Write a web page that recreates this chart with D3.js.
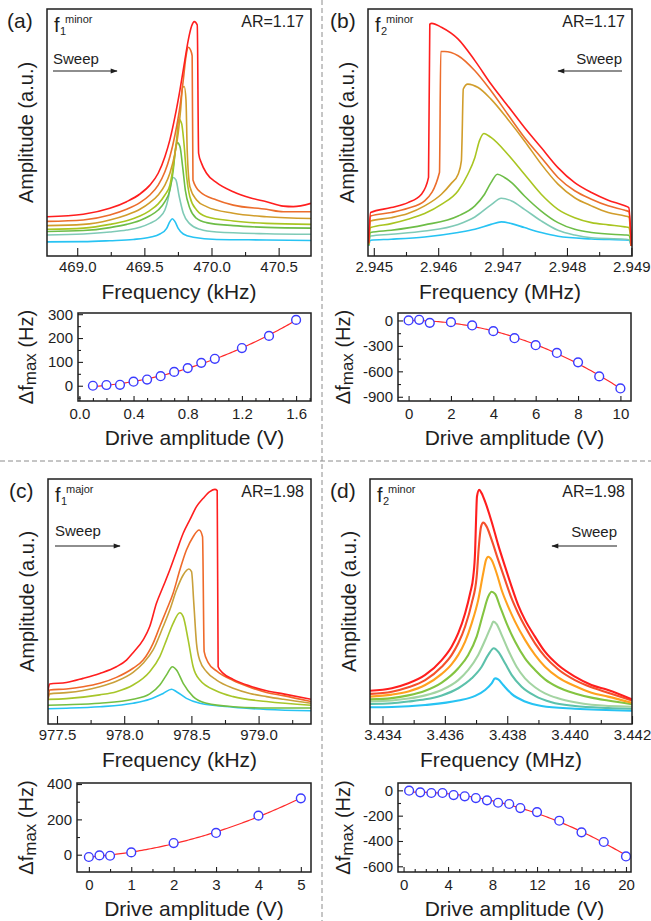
<!DOCTYPE html>
<html>
<head>
<meta charset="utf-8">
<script src="https://cdn.jsdelivr.net/npm/d3@7"></script>
<style>
  body { margin: 0; background: #fff; }
  svg { display: block; font-family: "Liberation Sans", Arial, sans-serif; }
</style>
</head>
<body>
<div id="chart"></div>
<script>
// ---- Data --------------------------------------------------------------
// Frequency responses: [frequency, amplitude (a.u.)], lowest drive first.

// (a) f1 minor, kHz
const cyanA = [[468.775,5.7],[469.045,5.8],[469.243,6.2],[469.417,6.7],[469.541,7.6],[469.616,8.9],[469.666,11.2],[469.690,13.9],[469.708,15.1],[469.728,13.9],[469.752,11.2],[469.790,8.9],[469.864,7.6],[470.038,6.7],[470.410,6.5],[470.741,6.3]];
const tealA = [[468.775,8.5],[469.045,8.9],[469.243,9.7],[469.368,10.5],[469.467,11.6],[469.541,13.2],[469.603,15.2],[469.653,18.6],[469.678,23.3],[469.698,29.4],[469.715,31.8],[469.735,30.8],[469.760,24.0],[469.790,17.3],[469.839,13.0],[469.914,10.8],[470.038,9.7],[470.410,9.0],[470.741,8.8]];
const greenA = [[468.775,9.9],[469.045,10.3],[469.243,11.5],[469.368,12.8],[469.467,14.4],[469.541,16.3],[469.603,18.6],[469.653,22.0],[469.690,26.7],[469.715,34.8],[469.735,44.3],[469.745,45.9],[469.765,44.3],[469.785,36.2],[469.805,26.7],[469.839,19.3],[469.889,15.2],[469.963,13.5],[470.162,12.3],[470.410,11.6],[470.741,11.3]];
const limeA = [[468.775,10.8],[469.045,11.3],[469.243,12.8],[469.368,14.3],[469.467,16.2],[469.541,18.4],[469.603,21.1],[469.653,24.7],[469.690,28.7],[469.715,36.2],[469.740,47.0],[469.757,55.3],[469.777,53.7],[469.795,45.6],[469.815,32.1],[469.839,24.0],[469.889,18.6],[469.963,15.9],[470.162,14.2],[470.410,13.2],[470.741,12.8]];
const goldA = [[468.775,12.3],[469.045,12.8],[469.243,14.6],[469.368,16.6],[469.467,18.9],[469.541,21.6],[469.603,24.7],[469.653,28.7],[469.690,33.5],[469.728,41.6],[469.752,49.7],[469.770,59.1],[469.785,68.3],[469.797,68.6],[469.810,63.2],[469.819,42.9],[469.839,28.1],[469.889,22.7],[469.963,20.0],[470.162,17.3],[470.410,15.9],[470.741,15.2]];
const orangeA = [[468.775,14.0],[469.045,14.6],[469.243,16.6],[469.368,18.9],[469.467,21.6],[469.541,24.7],[469.603,28.7],[469.653,34.1],[469.690,40.2],[469.728,49.0],[469.765,60.5],[469.790,71.3],[469.810,80.7],[469.827,84.5],[469.844,83.4],[469.856,81.0],[469.862,30.8],[469.914,26.0],[470.038,22.7],[470.162,20.6],[470.410,18.9],[470.535,17.9],[470.741,17.9]];
const redA = [[468.775,15.9],[469.045,16.9],[469.243,19.3],[469.368,22.0],[469.467,25.1],[469.541,28.7],[469.603,33.5],[469.653,40.2],[469.690,47.0],[469.728,56.4],[469.765,67.2],[469.802,79.4],[469.827,87.4],[469.852,93.1],[469.872,94.9],[469.894,93.5],[469.904,41.6],[469.926,37.5],[469.963,33.5],[470.038,29.7],[470.162,26.0],[470.286,23.6],[470.410,22.0],[470.535,20.2],[470.609,20.0],[470.741,21.3]];

// (b) f2 minor, MHz
const cyanB = [[2.94492,4.1],[2.94495,6.4],[2.94527,6.8],[2.94579,7.7],[2.94631,9.5],[2.94657,10.8],[2.94682,12.8],[2.94698,13.8],[2.94714,13.1],[2.94734,11.5],[2.94760,9.5],[2.94786,8.0],[2.94838,6.9],[2.94896,6.4],[2.94900,4.1]];
const tealB = [[2.94492,4.1],[2.94495,8.1],[2.94527,8.8],[2.94579,10.1],[2.94631,12.8],[2.94657,15.8],[2.94682,20.7],[2.94698,23.4],[2.94714,22.3],[2.94734,18.9],[2.94760,14.2],[2.94786,10.4],[2.94812,8.5],[2.94838,7.4],[2.94890,6.8],[2.94896,6.6],[2.94900,4.1]];
const greenB = [[2.94492,4.3],[2.94495,9.5],[2.94527,10.4],[2.94579,12.6],[2.94631,16.2],[2.94657,20.3],[2.94672,25.0],[2.94682,29.7],[2.94692,33.1],[2.94703,31.8],[2.94714,29.7],[2.94734,24.3],[2.94760,18.2],[2.94786,13.5],[2.94812,10.8],[2.94838,9.5],[2.94890,8.5],[2.94896,8.4],[2.94900,4.1]];
const limeB = [[2.94492,4.5],[2.94495,11.5],[2.94527,13.1],[2.94553,14.9],[2.94579,17.2],[2.94605,20.9],[2.94631,26.4],[2.94646,33.1],[2.94657,39.9],[2.94664,46.6],[2.94671,49.6],[2.94682,48.0],[2.94708,41.2],[2.94734,33.1],[2.94760,25.0],[2.94786,18.9],[2.94812,15.5],[2.94838,13.5],[2.94864,12.6],[2.94890,11.8],[2.94896,11.5],[2.94900,4.1]];
const goldB = [[2.94492,4.7],[2.94495,14.2],[2.94527,15.5],[2.94553,17.2],[2.94579,20.3],[2.94605,25.0],[2.94620,29.3],[2.94631,33.1],[2.94636,38.5],[2.94637,46.6],[2.94639,67.6],[2.94646,69.6],[2.94662,68.2],[2.94682,63.5],[2.94708,55.4],[2.94734,46.6],[2.94760,37.2],[2.94786,29.1],[2.94812,23.6],[2.94838,20.3],[2.94864,17.6],[2.94890,16.2],[2.94896,15.8],[2.94900,4.1]];
const orangeB = [[2.94492,5.0],[2.94495,16.2],[2.94527,17.6],[2.94553,19.3],[2.94579,22.3],[2.94602,33.8],[2.94604,82.8],[2.94610,82.8],[2.94631,81.1],[2.94657,75.0],[2.94682,66.9],[2.94708,57.4],[2.94734,48.0],[2.94760,39.9],[2.94786,31.8],[2.94812,26.4],[2.94838,23.0],[2.94864,20.3],[2.94890,18.5],[2.94896,18.0],[2.94900,4.1]];
const redB = [[2.94492,5.4],[2.94495,17.6],[2.94527,19.6],[2.94553,21.6],[2.94574,25.0],[2.94585,31.8],[2.94587,93.9],[2.94590,94.2],[2.94605,92.6],[2.94631,87.8],[2.94657,79.1],[2.94682,69.6],[2.94714,58.8],[2.94734,52.0],[2.94760,43.9],[2.94786,35.8],[2.94812,29.7],[2.94838,25.7],[2.94864,22.6],[2.94890,20.3],[2.94896,19.6],[2.94900,4.1]];

// (c) f1 major, kHz
const cyanC = [[977.433,6.2],[977.570,6.4],[977.818,7.0],[978.066,8.4],[978.190,10.0],[978.290,12.4],[978.352,14.1],[978.389,13.1],[978.463,10.4],[978.563,8.4],[978.811,6.8],[979.059,5.9],[979.390,5.4]];
const greenC = [[977.433,7.6],[977.570,7.8],[977.818,8.4],[978.066,10.0],[978.190,12.2],[978.265,15.8],[978.315,19.9],[978.359,23.2],[978.389,21.9],[978.439,16.5],[978.513,11.1],[978.613,8.4],[978.811,7.0],[979.059,6.5],[979.390,6.5]];
const limeC = [[977.433,10.0],[977.570,10.3],[977.818,11.8],[977.942,13.1],[978.066,15.8],[978.190,21.2],[978.265,27.3],[978.315,34.1],[978.364,40.8],[978.414,45.1],[978.439,43.5],[978.476,34.1],[978.513,23.2],[978.563,17.8],[978.687,13.4],[978.811,11.1],[979.059,9.1],[979.390,7.6]];
const goldC = [[977.433,10.0],[977.445,12.2],[977.570,12.7],[977.694,13.6],[977.818,15.1],[977.942,17.3],[978.066,20.9],[978.141,24.6],[978.215,30.0],[978.290,39.5],[978.339,46.2],[978.389,54.3],[978.439,60.4],[978.481,62.8],[978.501,61.8],[978.518,48.9],[978.538,32.7],[978.563,25.7],[978.613,21.2],[978.687,17.8],[978.811,14.5],[978.935,12.4],[979.059,11.1],[979.184,10.0],[979.390,8.4]];
const orangeC = [[977.433,9.7],[977.445,13.8],[977.570,14.2],[977.694,15.1],[977.818,16.5],[977.942,18.9],[978.066,22.6],[978.141,25.9],[978.215,32.7],[978.265,39.5],[978.315,46.2],[978.364,53.0],[978.414,62.4],[978.463,70.5],[978.513,75.9],[978.558,78.6],[978.583,75.9],[978.595,29.3],[978.625,24.9],[978.687,21.5],[978.811,17.6],[978.935,14.9],[979.059,12.8],[979.184,11.5],[979.390,9.1]];
const redC = [[977.433,13.5],[977.445,16.2],[977.570,16.8],[977.694,18.5],[977.818,20.5],[977.942,23.2],[978.017,25.9],[978.066,28.9],[978.141,34.1],[978.190,39.5],[978.240,48.9],[978.290,55.7],[978.339,62.4],[978.389,69.9],[978.439,77.3],[978.488,82.7],[978.538,88.1],[978.588,91.5],[978.637,94.2],[978.675,95.1],[978.692,94.6],[978.699,23.2],[978.737,20.5],[978.811,18.1],[978.935,15.4],[979.059,13.5],[979.184,12.2],[979.390,10.0]];

// (d) f2 minor, MHz
const cyanD = [[3.4336,6.8],[3.43430,6.9],[3.43537,7.7],[3.43643,9.5],[3.43697,11.4],[3.43729,13.8],[3.43750,16.5],[3.43761,18.5],[3.43771,18.1],[3.43787,15.8],[3.43814,12.2],[3.43857,9.1],[3.43910,7.3],[3.44017,6.2],[3.44200,5.4]];
const tealD = [[3.4336,8.1],[3.43430,8.4],[3.43483,9.1],[3.43537,10.0],[3.43590,11.6],[3.43643,14.5],[3.43686,18.5],[3.43718,23.2],[3.43739,28.0],[3.43757,30.7],[3.43771,29.3],[3.43793,24.6],[3.43814,19.9],[3.43846,15.1],[3.43889,11.4],[3.43942,8.8],[3.44017,7.3],[3.44123,6.5],[3.44200,6.2]];
const paleD = [[3.4336,9.1],[3.43430,9.5],[3.43483,10.3],[3.43537,11.6],[3.43590,13.8],[3.43643,17.8],[3.43675,21.9],[3.43707,28.0],[3.43734,35.4],[3.43750,40.1],[3.43755,41.5],[3.43766,40.5],[3.43782,36.1],[3.43803,30.0],[3.43830,23.2],[3.43857,18.5],[3.43889,14.9],[3.43921,12.4],[3.43963,10.4],[3.44017,8.8],[3.44070,7.8],[3.44200,7.0]];
const greenD = [[3.4336,10.0],[3.43430,10.5],[3.43483,11.6],[3.43537,13.5],[3.43590,16.8],[3.43643,22.6],[3.43675,28.0],[3.43702,35.4],[3.43723,44.9],[3.43739,51.6],[3.43750,53.6],[3.43761,52.7],[3.43777,47.6],[3.43798,40.8],[3.43825,33.4],[3.43857,26.6],[3.43889,21.9],[3.43921,18.1],[3.43963,14.9],[3.44017,12.4],[3.44070,10.7],[3.44123,9.5],[3.44200,8.0]];
const orangeD = [[3.4336,11.1],[3.43430,11.9],[3.43483,13.2],[3.43537,15.8],[3.43590,20.3],[3.43622,24.3],[3.43643,28.0],[3.43665,33.4],[3.43686,40.8],[3.43707,50.3],[3.43723,61.1],[3.43732,66.5],[3.43739,67.8],[3.43750,66.5],[3.43766,61.1],[3.43782,54.3],[3.43803,47.6],[3.43825,41.5],[3.43857,34.1],[3.43889,28.0],[3.43921,23.2],[3.43963,18.9],[3.44017,15.4],[3.44070,12.7],[3.44123,11.1],[3.44200,8.6]];
const vermilionD = [[3.4336,12.2],[3.43430,13.1],[3.43483,14.9],[3.43537,17.8],[3.43590,23.2],[3.43622,28.0],[3.43643,32.7],[3.43665,39.5],[3.43686,48.9],[3.43702,59.7],[3.43709,71.9],[3.43716,80.0],[3.43723,81.6],[3.43734,80.0],[3.43750,74.6],[3.43771,66.5],[3.43793,58.4],[3.43814,50.9],[3.43835,44.9],[3.43857,39.5],[3.43889,32.7],[3.43921,27.3],[3.43963,22.2],[3.44017,17.8],[3.44070,14.9],[3.44123,12.7],[3.44200,9.5]];
const redD = [[3.4336,13.5],[3.43430,14.5],[3.43483,16.5],[3.43537,19.9],[3.43590,25.9],[3.43622,31.4],[3.43643,36.8],[3.43665,44.9],[3.43681,53.0],[3.43691,59.7],[3.43697,70.0],[3.43700,82.7],[3.43703,92.2],[3.43710,94.9],[3.43718,93.5],[3.43729,90.1],[3.43750,82.0],[3.43771,72.6],[3.43793,63.8],[3.43814,55.7],[3.43835,48.2],[3.43857,42.2],[3.43889,35.4],[3.43921,29.3],[3.43963,23.9],[3.44017,19.2],[3.44070,15.8],[3.44123,13.8],[3.44200,10.0]];

const curvesA = [cyanA, tealA, greenA, limeA, goldA, orangeA, redA];
const curvesB = [cyanB, tealB, greenB, limeB, goldB, orangeB, redB];
const curvesC = [cyanC, greenC, limeC, goldC, orangeC, redC];
const curvesD = [cyanD, tealD, paleD, greenD, orangeD, vermilionD, redD];

const colorsA = ["#27c3f3", "#7fcab6", "#6dbd47", "#a9c521", "#d19d2b", "#ec6d2c", "#ff1e1e"];
const colorsB = ["#27c3f3", "#7fcab6", "#6dbd47", "#a9c521", "#d19d2b", "#ec6d2c", "#ff1e1e"];
const colorsC = ["#27c3f3", "#74bf42", "#a7c62a", "#c9a03a", "#ef6a2a", "#ff1e1e"];
const colorsD = ["#27c3f3", "#5cc1ab", "#a3d4a2", "#84c441", "#ffa11e", "#f5502b", "#ff1e1e"];

// Frequency-axis ticks
const majorTicksA = [469.0, 469.5, 470.0, 470.5];
const minorTicksA = [469.25, 469.75, 470.25];
const majorTicksB = [2.945, 2.946, 2.947, 2.948, 2.949];
const minorTicksB = [2.9455, 2.9465, 2.9475, 2.9485];
const majorTicksC = [977.5, 978.0, 978.5, 979.0];
const minorTicksC = [977.75, 978.25, 978.75, 979.25];
const majorTicksD = [3.434, 3.436, 3.438, 3.440, 3.442];
const minorTicksD = [3.435, 3.437, 3.439, 3.441];

// Peak shift vs drive amplitude
const driveA = [0.1, 0.2, 0.3, 0.4, 0.5, 0.6, 0.7, 0.8, 0.9, 1.0, 1.2, 1.4, 1.6];
const shiftA = [0, 3, 4, 17, 26, 40, 58, 74, 96, 113, 158, 209, 276];
const driveB = [0, 0.5, 1, 2, 3, 4, 5, 6, 7, 8, 9, 10];
const shiftB = [0, 8, -28, -20, -59, -126, -209, -292, -383, -494, -660, -802];
const driveC = [0, 0.25, 0.5, 1, 2, 3, 4, 5];
const shiftC = [-13, -4, -6, 13, 66, 123, 221, 319];
const driveD = [0.5, 1.5, 2.5, 3.5, 4.5, 5.5, 6.5, 7.5, 8.5, 9.5, 10.5, 12, 14, 16, 18, 20];
const shiftD = [-3, -16, -21, -21, -37, -47, -61, -79, -98, -108, -140, -172, -240, -332, -408, -522];

// ---- Drawing -----------------------------------------------------------
const W = 651, H = 921;
const ink = "#1e1e1e";

const svg = d3.select("#chart").append("svg")
    .attr("width", W)
    .attr("height", H)
    .attr("viewBox", [0, 0, W, H]);

svg.append("defs").append("marker")
    .attr("id", "arrowhead")
    .attr("viewBox", "0 0 10 10")
    .attr("refX", 9).attr("refY", 5)
    .attr("markerUnits", "userSpaceOnUse")
    .attr("markerWidth", 9).attr("markerHeight", 7)
    .attr("orient", "auto")
    .append("path")
    .attr("d", "M0,1.5 L10,5 L0,8.5 Z")
    .attr("fill", ink);

// dashed separators between the four panels
svg.append("line")
    .attr("x1", 322).attr("x2", 322).attr("y1", 0).attr("y2", H)
    .attr("stroke", "#8c8c8c").attr("stroke-dasharray", "5,3");
svg.append("line")
    .attr("x1", 0).attr("x2", W).attr("y1", 461).attr("y2", 461)
    .attr("stroke", "#8c8c8c").attr("stroke-dasharray", "5,3");

let clipCount = 0;

const styleAxis = (g, size) => {
    g.select(".domain").remove();
    g.selectAll("line").attr("stroke", ink).attr("stroke-width", 1.1);
    g.selectAll("text").attr("fill", ink).attr("font-size", size)
        .attr("font-family", "Liberation Sans, Arial, sans-serif");
};

// Frequency-response panel
const drawSpectrum = (p) => {
    const x = d3.scaleLinear().domain(p.xDomain).range([p.left, p.right]);
    const y = d3.scaleLinear().domain(p.yDomain).range([p.bottom, p.top]);
    const g = svg.append("g");

    const clipId = "clip" + (clipCount++);
    g.append("clipPath").attr("id", clipId).append("rect")
        .attr("x", p.left).attr("y", p.top)
        .attr("width", p.right - p.left).attr("height", p.bottom - p.top);

    const line = d3.line()
        .x(d => x(d[0]))
        .y(d => y(d[1]))
        .curve(d3.curveMonotoneX);

    g.append("g").attr("clip-path", `url(#${clipId})`)
        .selectAll("path")
        .data(p.curves)
        .join("path")
        .attr("d", line)
        .attr("fill", "none")
        .attr("stroke", (d, i) => p.colors[i])
        .attr("stroke-width", p.lineWidth)
        .attr("stroke-linejoin", "round");

    // ticks point into the frame
    g.append("g")
        .attr("transform", `translate(0,${p.bottom})`)
        .call(d3.axisBottom(x).tickValues(p.major).tickSize(-8).tickPadding(5).tickFormat(d3.format(p.fmt)))
        .call(a => styleAxis(a, 15));
    g.append("g")
        .attr("transform", `translate(0,${p.bottom})`)
        .call(d3.axisBottom(x).tickValues(p.minor).tickSize(-4).tickFormat(""))
        .call(a => styleAxis(a, 15));

    g.append("rect")
        .attr("x", p.left).attr("y", p.top)
        .attr("width", p.right - p.left).attr("height", p.bottom - p.top)
        .attr("fill", "none").attr("stroke", ink).attr("stroke-width", 1.5);

    // panel tag, mode name and aspect ratio
    g.append("text").attr("x", p.tagX).attr("y", p.top + 19)
        .attr("font-size", 21).attr("fill", ink).text(p.tag);
    g.append("text").attr("x", p.left + 7).attr("y", p.top + 23)
        .attr("font-size", 20).attr("fill", ink).text("f");
    g.append("text").attr("x", p.left + 13).attr("y", p.top + 26)
        .attr("font-size", 11).attr("fill", ink).text(p.sub);
    g.append("text").attr("x", p.left + 18).attr("y", p.top + 14)
        .attr("font-size", 11).attr("fill", ink).text(p.sup);
    g.append("text").attr("x", p.right - 7).attr("y", p.top + 18)
        .attr("text-anchor", "end").attr("font-size", 16).attr("fill", ink).text(p.ar);

    // sweep direction
    g.append("text")
        .attr("x", p.sweep[0]).attr("y", p.top + p.sweepText)
        .attr("text-anchor", p.sweep[0] < p.sweep[1] ? "start" : "end")
        .attr("font-size", 15).attr("fill", ink).text("Sweep");
    g.append("line")
        .attr("x1", p.sweep[0]).attr("x2", p.sweep[1])
        .attr("y1", p.top + p.sweepArrow).attr("y2", p.top + p.sweepArrow)
        .attr("stroke", ink).attr("stroke-width", 1.1)
        .attr("marker-end", "url(#arrowhead)");

    // axis titles
    g.append("text")
        .attr("x", (p.left + p.right) / 2).attr("y", p.bottom + 43)
        .attr("text-anchor", "middle").attr("font-size", 21).attr("fill", ink)
        .text(p.xTitle);
    g.append("text")
        .attr("transform", `translate(${p.left - 14},${(p.top + p.bottom) / 2}) rotate(-90)`)
        .attr("text-anchor", "middle").attr("font-size", 20).attr("fill", ink)
        .text("Amplitude (a.u.)");
};

// least-squares quadratic through the shift data
const quadFit = (xs, ys) => {
    const S = [0, 0, 0, 0, 0], T = [0, 0, 0];
    xs.forEach((v, i) => {
        let pw = 1;
        for (let k = 0; k < 5; k++) {
            S[k] += pw;
            if (k < 3) T[k] += pw * ys[i];
            pw *= v;
        }
    });
    const M = [[S[0], S[1], S[2], T[0]], [S[1], S[2], S[3], T[1]], [S[2], S[3], S[4], T[2]]];
    for (let i = 0; i < 3; i++) {
        for (let j = i + 1; j < 3; j++) {
            const f = M[j][i] / M[i][i];
            for (let k = i; k < 4; k++) M[j][k] -= f * M[i][k];
        }
    }
    const c = [0, 0, 0];
    for (let i = 2; i >= 0; i--) {
        let s = M[i][3];
        for (let k = i + 1; k < 3; k++) s -= M[i][k] * c[k];
        c[i] = s / M[i][i];
    }
    return v => c[0] + c[1] * v + c[2] * v * v;
};

// Peak-shift panel
const drawShift = (p) => {
    const x = d3.scaleLinear().domain(p.xDomain).range([p.left, p.right]);
    const y = d3.scaleLinear().domain(p.yDomain).range([p.bottom, p.top]);
    const g = svg.append("g");

    const fit = quadFit(p.drive, p.shift);
    const lo = d3.min(p.drive), hi = d3.max(p.drive);
    const fitPts = d3.range(0, 101).map(i => lo + (hi - lo) * i / 100);

    g.append("path")
        .datum(fitPts)
        .attr("d", d3.line().x(d => x(d)).y(d => y(fit(d))))
        .attr("fill", "none").attr("stroke", "#ff2a2a").attr("stroke-width", 1.2);

    g.selectAll("circle")
        .data(p.drive.map((d, i) => [d, p.shift[i]]))
        .join("circle")
        .attr("cx", d => x(d[0])).attr("cy", d => y(d[1])).attr("r", 4.4)
        .attr("fill", "#fff").attr("stroke", "#3b3bff").attr("stroke-width", 1.4);

    const plain = d => (p.xFmt ? d3.format(p.xFmt)(d) : String(d));
    g.append("g").attr("transform", `translate(0,${p.bottom})`)
        .call(d3.axisBottom(x).tickValues(p.xMajor).tickSize(-5).tickPadding(7).tickFormat(plain))
        .call(a => styleAxis(a, 15));
    g.append("g").attr("transform", `translate(0,${p.bottom})`)
        .call(d3.axisBottom(x).tickValues(p.xMinor).tickSize(-3).tickFormat(""))
        .call(a => styleAxis(a, 15));
    g.append("g").attr("transform", `translate(${p.left},0)`)
        .call(d3.axisLeft(y).tickValues(p.yMajor).tickSize(-5).tickPadding(5).tickFormat(d => String(d)))
        .call(a => styleAxis(a, 15));
    g.append("g").attr("transform", `translate(${p.left},0)`)
        .call(d3.axisLeft(y).tickValues(p.yMinor).tickSize(-3).tickFormat(""))
        .call(a => styleAxis(a, 15));

    g.append("rect")
        .attr("x", p.left).attr("y", p.top)
        .attr("width", p.right - p.left).attr("height", p.bottom - p.top)
        .attr("fill", "none").attr("stroke", ink).attr("stroke-width", 1.5);

    g.append("text")
        .attr("x", (p.left + p.right) / 2).attr("y", p.bottom + 44)
        .attr("text-anchor", "middle").attr("font-size", 21).attr("fill", ink)
        .text("Drive amplitude (V)");

    const yt = g.append("text")
        .attr("transform", `translate(${p.titleX},${(p.top + p.bottom) / 2}) rotate(-90)`)
        .attr("text-anchor", "middle").attr("font-size", 20).attr("fill", ink);
    yt.append("tspan").text("\u0394f");
    yt.append("tspan").attr("font-size", 17).attr("dy", 3).text("max");
    yt.append("tspan").attr("dy", -3).text(" (Hz)");
};

drawSpectrum({
    tag: "(a)", tagX: 7, left: 47, right: 311, top: 9, bottom: 256,
    xDomain: [468.775, 470.741], yDomain: [0, 100],
    major: majorTicksA, minor: minorTicksA, fmt: ".1f",
    curves: curvesA, colors: colorsA, lineWidth: 1.6,
    sub: "1", sup: "minor", ar: "AR=1.17",
    sweep: [53, 117], sweepText: 55, sweepArrow: 62,
    xTitle: "Frequency (kHz)"
});
drawSpectrum({
    tag: "(b)", tagX: 330, left: 368, right: 632, top: 9, bottom: 256,
    xDomain: [2.94491, 2.94901], yDomain: [0, 100],
    major: majorTicksB, minor: minorTicksB, fmt: ".3f",
    curves: curvesB, colors: colorsB, lineWidth: 1.6,
    sub: "2", sup: "minor", ar: "AR=1.17",
    sweep: [622, 558], sweepText: 55, sweepArrow: 62,
    xTitle: "Frequency (MHz)"
});
drawSpectrum({
    tag: "(c)", tagX: 9, left: 48, right: 311, top: 479, bottom: 724,
    xDomain: [977.433, 979.390], yDomain: [0, 99.3],
    major: majorTicksC, minor: minorTicksC, fmt: ".1f",
    curves: curvesC, colors: colorsC, lineWidth: 1.6,
    sub: "1", sup: "major", ar: "AR=1.98",
    sweep: [55, 120], sweepText: 57, sweepArrow: 67,
    xTitle: "Frequency (kHz)"
});
drawSpectrum({
    tag: "(d)", tagX: 330, left: 370, right: 632, top: 479, bottom: 724,
    xDomain: [3.4336, 3.442], yDomain: [0, 99.3],
    major: majorTicksD, minor: minorTicksD, fmt: ".3f",
    curves: curvesD, colors: colorsD, lineWidth: 2.1,
    sub: "2", sup: "minor", ar: "AR=1.98",
    sweep: [617, 552], sweepText: 58, sweepArrow: 67,
    xTitle: "Frequency (MHz)"
});

drawShift({
    left: 78, right: 311, top: 313, bottom: 401, titleX: 33,
    xDomain: [-0.01, 1.71], yDomain: [-64, 305],
    drive: driveA, shift: shiftA, xFmt: ".1f",
    xMajor: [0, 0.4, 0.8, 1.2, 1.6], xMinor: [0.1, 0.2, 0.3, 0.5, 0.6, 0.7, 0.9, 1.0, 1.1, 1.3, 1.4, 1.5, 1.7],
    yMajor: [0, 100, 200, 300], yMinor: [-50, 50, 150, 250]
});
drawShift({
    left: 398, right: 631, top: 313, bottom: 401, titleX: 350,
    xDomain: [-0.5, 10.5], yDomain: [-950, 88],
    drive: driveB, shift: shiftB,
    xMajor: [0, 2, 4, 6, 8, 10], xMinor: [1, 3, 5, 7, 9],
    yMajor: [0, -300, -600, -900], yMinor: [-150, -450, -750]
});
drawShift({
    left: 77, right: 311, top: 783, bottom: 872, titleX: 33,
    xDomain: [-0.28, 5.24], yDomain: [-98, 406],
    drive: driveC, shift: shiftC,
    xMajor: [0, 1, 2, 3, 4, 5], xMinor: [0.5, 1.5, 2.5, 3.5, 4.5],
    yMajor: [0, 200, 400], yMinor: [100, 300]
});
drawShift({
    left: 398, right: 631, top: 783, bottom: 872, titleX: 350,
    xDomain: [-0.5, 20.45], yDomain: [-645, 58],
    drive: driveD, shift: shiftD,
    xMajor: [0, 4, 8, 12, 16, 20], xMinor: [1, 2, 3, 5, 6, 7, 9, 10, 11, 13, 14, 15, 17, 18, 19],
    yMajor: [0, -200, -400, -600], yMinor: [-100, -300, -500]
});
</script>
</body>
</html>
